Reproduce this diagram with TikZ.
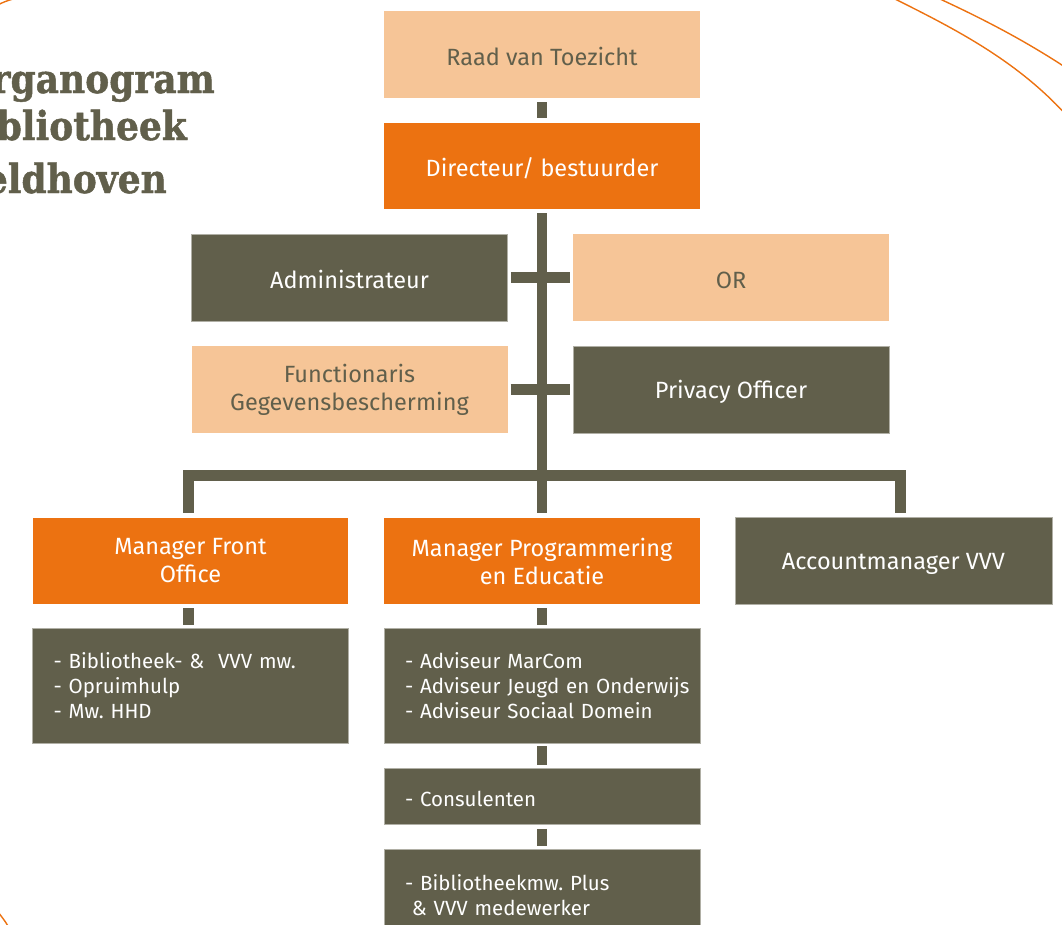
\documentclass[tikz,border=0pt]{standalone}
\usepackage{fontspec}
\setmainfont{Fira Sans}
\newfontfamily\titlefont[FakeStretch=0.9,FakeBold=1.2]{DejaVu Serif}
\definecolor{peach}{HTML}{F6C597}
\definecolor{orng}{HTML}{EC7211}
\definecolor{olive}{HTML}{615F4B}
\frenchspacing
\begin{document}
\frenchspacing
\begin{tikzpicture}[x=1pt,y=-1pt,
  box/.style={rectangle,inner sep=0pt,minimum width=316pt,minimum height=87pt,align=center,
    font=\fontsize{23.5}{28}\selectfont,execute at begin node={\rule{0pt}{23pt}}},
  pbox/.style={box,fill=peach,text=olive},
  obox/.style={box,fill=orng,text=white},
  dbox/.style={box,fill=olive,text=white,draw=olive!50!white,line width=0.7pt},
  lbox/.style={fill=olive,text=white,draw=olive!50!white,line width=0.7pt,rectangle,
    align=left,text width=316pt,inner ysep=0pt,inner xsep=0pt,minimum height=115pt,
    font=\fontsize{20.5}{25}\selectfont,
    execute at begin node={\leftskip=21pt\hyphenpenalty=10000\exhyphenpenalty=10000}},
  conn/.style={draw=olive,line width=10.5pt,line join=miter},
  arc/.style={draw=orng,line width=1.4pt},
  ttl/.style={anchor=base east,inner sep=0pt,text=olive,font=\titlefont\bfseries\fontsize{40}{48}\selectfont}
]
\useasboundingbox (0,0) rectangle (1062,924);
\begin{scope}
\clip (0,0) rectangle (1062,924);
% decorative arcs
\draw[arc] (893,-2) .. controls (953,28) and (1017,60) .. (1068,117);
\draw[arc] (940,-1) .. controls (983,19) and (1024,40) .. (1068,69);
\draw[arc] (-3,5.5) .. controls (3,2) and (8,0.5) .. (13,-1);
\draw[arc] (-2,912) .. controls (2,917) and (5,921) .. (8,926);

% title
\node[ttl] (t1) at (215,93) {Organogram};
\node[ttl] (t2) at (187,140) {Bibliotheek};
\node[ttl] (t3) at (167,193) {Veldhoven};

% boxes
\node[pbox] (raad) at (542,54.5) {Raad van Toezicht};
\node[obox,minimum height=86pt] (dir) at (542,166) {Directeur/ bestuurder};
\node[dbox] (adm) at (349.5,277.5) {Administrateur};
\node[pbox] (or) at (731,277.5) {OR};
\node[pbox] (fg) at (349.5,389.5) {Functionaris\\Gegevensbescherming};
\node[dbox] (po) at (731,389.5) {Privacy Officer};
\node[obox,minimum width=315pt,minimum height=86pt] (mfo) at (190.5,561) {Manager Front\\Office};
\node[obox,minimum height=86pt] (mpe) at (542,561) {Manager Programmering\\en Educatie};
\node[dbox,minimum width=317pt] (acc) at (893.5,560.5) {Accountmanager VVV};
\node[lbox] (fol) at (190.5,685.5) {- Bibliotheek- \&\ \ VVV mw.\\- Opruimhulp\\- Mw. HHD};
\node[lbox] (pel) at (542,685.5) {- Adviseur MarCom\\- Adviseur Jeugd en Onderwijs\\- Adviseur Sociaal Domein};
\node[lbox,minimum height=56pt] (cons) at (542,796.5) {\rule{0pt}{20pt}- Consulenten};
\node[lbox,minimum height=92pt] (bib) at (542,895) {- Bibliotheekmw. Plus\\\ \& VVV medewerker};

% connectors
\coordinate (hl) at (188.5,475.5);
\coordinate (hr) at (900.5,475.5);
\draw[conn,shorten <=4pt,shorten >=5pt] (raad.south) -- (dir.north);
\draw[conn,shorten <=4pt,shorten >=5pt] (dir.south) -- (mpe.north);
\draw[conn,shorten <=3pt,shorten >=3pt] (adm.east) -- (or.west);
\draw[conn,shorten <=3pt,shorten >=3pt] (fg.east) -- (po.west);
\draw[conn] ([yshift=5pt]mfo.north -| hl) -- (hl) -- (hr) -- ([yshift=4pt]acc.north -| hr);
\draw[conn,shorten <=4pt,shorten >=3pt] (mfo.south -| hl) -- (fol.north -| hl);
\draw[conn,shorten <=4pt,shorten >=3pt] (mpe.south) -- (pel.north);
\draw[conn,shorten <=3pt,shorten >=3pt] (pel.south) -- (cons.north);
\draw[conn,shorten <=4pt,shorten >=3pt] (cons.south) -- (bib.north);
\end{scope}
\end{tikzpicture}
\end{document}
